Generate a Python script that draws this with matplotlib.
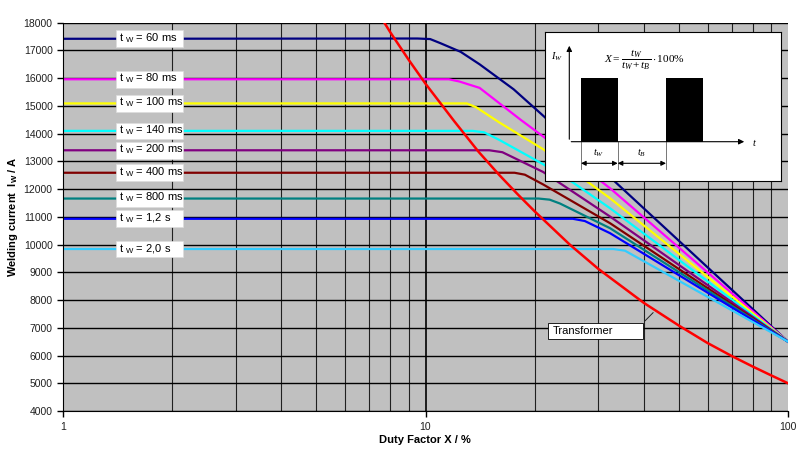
import matplotlib
matplotlib.use("Agg")
import matplotlib.pyplot as plt
from matplotlib.patches import Rectangle
import numpy as np

plt.rcParams['font.family'] = ['Liberation Sans', 'DejaVu Sans']
plt.rcParams['mathtext.fontset'] = 'custom'
plt.rcParams['mathtext.rm'] = 'Liberation Serif'
plt.rcParams['mathtext.bf'] = 'Liberation Sans:bold'
plt.rcParams['mathtext.it'] = 'Liberation Serif:italic'

# weld time labels (t_W) and curve colours
labels = ["60 ms", "80 ms", "100 ms", "140 ms", "200 ms", "400 ms", "800 ms", "1,2 s", "2,0 s"]
colors = ["#000080", "#FF00FF", "#FFFF00", "#00FFFF", "#800080", "#800000", "#008080", "#0000FF", "#33CCFF"]

# duty factor X (%) and welding current I_W (A)
x_60 = [1, 9.5, 10.3, 11.0, 12.5, 14.1, 17.5, 21.1, 33.3, 100]
i_60 = [17420, 17430, 17410, 17260, 16950, 16500, 15600, 14650, 12270, 6500]
x_80 = [1, 11.6, 12.4, 14.1, 18.3, 21.1, 32.3, 100]
i_80 = [15960, 15960, 15880, 15650, 14500, 13900, 12030, 6500]
x_100 = [1, 13.0, 13.8, 16.0, 21.1, 32.3, 100]
i_100 = [15090, 15090, 14950, 14400, 13440, 11670, 6500]
x_140 = [1, 13.5, 14.5, 16.0, 21.1, 25.3, 32.3, 100]
i_140 = [14100, 14100, 14050, 13770, 12900, 12270, 11310, 6500]
x_200 = [1, 15.0, 16.3, 21.1, 32.3, 100]
i_200 = [13400, 13400, 13330, 12620, 11010, 6500]
x_400 = [1, 17.6, 18.8, 21.1, 32.3, 100]
i_400 = [12590, 12590, 12520, 12170, 10770, 6500]
x_800 = [1, 20.5, 22.0, 23.5, 32.3, 100]
i_800 = [11660, 11660, 11620, 11480, 10590, 6500]
x_1200 = [1, 25.5, 27.5, 32.3, 100]
i_1200 = [10930, 10930, 10850, 10410, 6500]
x_2000 = [1, 33.0, 35.5, 100]
i_2000 = [9840, 9840, 9780, 6500]

x_trafo = [7.7, 8, 9, 10, 12, 14, 16, 18, 20, 25, 30, 40, 50, 60, 70, 80, 90, 100]
i_trafo = [18000, 17650, 16650, 15800, 14450, 13350, 12500, 11800, 11200, 10000, 9120,
           7900, 7080, 6450, 5980, 5600, 5280, 5000]

series_x = [x_60, x_80, x_100, x_140, x_200, x_400, x_800, x_1200, x_2000]
series_i = [i_60, i_80, i_100, i_140, i_200, i_400, i_800, i_1200, i_2000]

fig = plt.figure(figsize=(8.05, 4.5), dpi=100)
ax = fig.add_axes([63/805, 1-411/450, 725/805, (411-22.7)/450])
ax.set_facecolor("#C0C0C0")
ax.set_xscale("log")
ax.set_xlim(1, 100)
ax.set_ylim(4000, 18000)
ax.set_yticks(np.arange(4000, 18001, 1000))
ax.set_xticks([1, 10, 100])
ax.set_xticklabels(["1", "10", "100"])
ax.tick_params(axis="both", which="major", labelsize=7.5, length=4, width=1,
               direction="out", labelcolor="#202020")
ax.tick_params(axis="x", which="major", pad=4)
ax.tick_params(axis="x", which="minor", length=0)
ax.xaxis.set_minor_formatter(plt.NullFormatter())
for s in ["top", "right"]:
    ax.spines[s].set_visible(False)

# grid
ax.yaxis.grid(True, color="black", lw=1.0)
for g in list(range(2, 10)) + list(range(20, 100, 10)):
    ax.axvline(g, color="#202020", lw=0.8, zorder=0.5)
ax.axvline(10, color="black", lw=1.2, zorder=0.5)
ax.set_axisbelow(True)

for xs, ys, c in zip(series_x, series_i, colors):
    ax.plot(xs, ys, color=c, lw=1.6, solid_joinstyle="round", zorder=2)
ax.plot(x_trafo, i_trafo, color="#FF0000", lw=1.8, zorder=3)

# t_W label boxes
for lab, ys in zip(labels, series_i):
    y0 = ys[0]
    ax.add_patch(Rectangle((1.40, y0 - 300), 2.143 - 1.40, 600, facecolor="white",
                           edgecolor="#DDDDDD", lw=0.5, zorder=4))
    ax.text(1.43, y0 + 30, "t $_\\mathregular{W}$ = " + lab, fontsize=8, va="center",
            ha="left", zorder=5)

# transformer label
ax.add_patch(Rectangle((21.8, 6600), 39.8 - 21.8, 575, facecolor="white",
                       edgecolor="black", lw=0.6, zorder=4))
ax.text(22.5, 6890, "Transformer", fontsize=8, va="center", ha="left", zorder=5)
ax.annotate("", xy=(43, 7620), xytext=(39.8, 7175),
            arrowprops=dict(arrowstyle="-", color="#202020", lw=0.7), zorder=5)

fig.text(13/805, 1-217/450, "Welding current  I$_\\mathbf{W}$ / A", rotation=90,
         fontsize=8, fontweight="bold", ha="center", va="center")
fig.text(425/805, 1-440/450, "Duty Factor X / %", fontsize=8, fontweight="bold",
         ha="center", va="center")

# inset: pulse diagram with duty factor formula
ins = fig.add_axes([545/805, 1-181/450, 236/805, 149/450])
ins.set_xlim(545, 781)
ins.set_ylim(181, 32)
ins.set_xticks([])
ins.set_yticks([])
ins.set_facecolor("white")
for s in ins.spines.values():
    s.set_color("black")
    s.set_linewidth(0.8)
ins.add_patch(Rectangle((581, 77.7), 36.7, 64, facecolor="black", edgecolor="none"))
ins.add_patch(Rectangle((666, 77.7), 36.7, 64, facecolor="black", edgecolor="none"))
ins.annotate("", xy=(569.3, 43), xytext=(569.3, 142),
             arrowprops=dict(arrowstyle="-|>", color="black", lw=0.8, mutation_scale=8))
ins.annotate("", xy=(747, 141.7), xytext=(568.5, 141.7),
             arrowprops=dict(arrowstyle="-|>", color="black", lw=0.8, mutation_scale=8))
for xv in [581, 617.7, 666]:
    ins.plot([xv, xv], [141.7, 169], color="#606060", lw=0.6)
ins.annotate("", xy=(581, 163.3), xytext=(617.7, 163.3),
             arrowprops=dict(arrowstyle="<|-|>", color="black", lw=0.8, mutation_scale=7,
                             shrinkA=0, shrinkB=0))
ins.annotate("", xy=(617.7, 163.3), xytext=(666, 163.3),
             arrowprops=dict(arrowstyle="<|-|>", color="black", lw=0.8, mutation_scale=7,
                             shrinkA=0, shrinkB=0))
ins.text(557, 57, "$I_W$", fontsize=7.5, ha="center", va="center")
ins.text(755, 142, "$t$", fontsize=7.5, ha="center", va="center")
ins.text(599, 153, "$t_W$", fontsize=7.5, ha="center", va="center")
ins.text(642, 153, "$t_B$", fontsize=7.5, ha="center", va="center")
ins.text(645, 60, "$X = \\dfrac{t_W}{t_W + t_B}\\cdot 100\\%$", fontsize=8.2,
         ha="center", va="center")

fig.savefig("out.png", dpi=100)
